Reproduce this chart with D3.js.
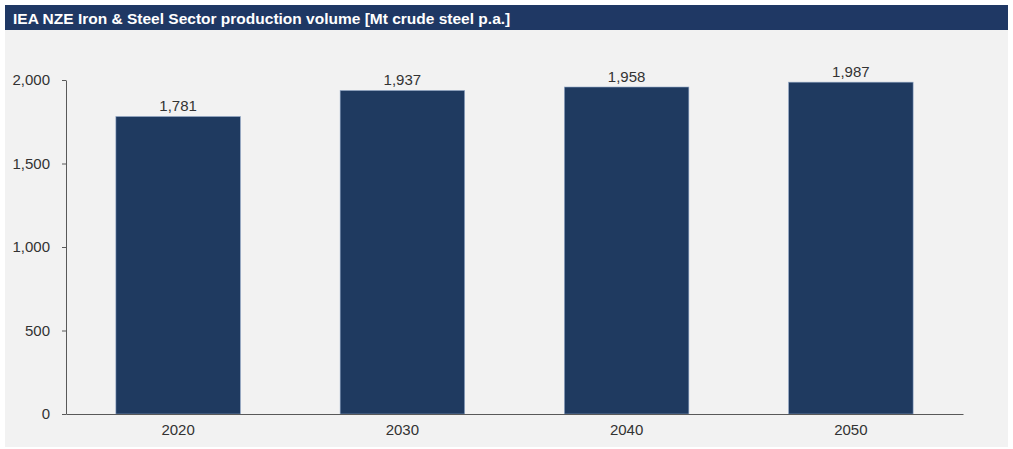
<!DOCTYPE html>
<html>
<head>
<meta charset="utf-8">
<script src="https://cdn.jsdelivr.net/npm/d3@7"></script>
<style>
  body { margin: 0; background: #fff; font-family: "Liberation Sans", Arial, sans-serif; }
</style>
</head>
<body>
<div id="chart"></div>
<script>
const width = 1013, height = 449;

// data
const years = ["2020", "2030", "2040", "2050"];
const volumes = [1781, 1937, 1958, 1987];
const yTicks = [0, 500, 1000, 1500, 2000];

const title = "IEA NZE Iron & Steel Sector production volume [Mt crude steel p.a.]";

const svg = d3.select("#chart").append("svg")
    .attr("width", width)
    .attr("height", height);

// panel background + header bar
svg.append("rect")
    .attr("x", 5).attr("y", 5)
    .attr("width", 1003).attr("height", 442)
    .attr("fill", "#f2f2f2");

svg.append("rect")
    .attr("x", 5).attr("y", 5)
    .attr("width", 1003).attr("height", 25)
    .attr("fill", "#1f3864");

svg.append("text")
    .attr("x", 13).attr("y", 23.5)
    .attr("fill", "#fff")
    .attr("font-size", 15.5)
    .attr("font-weight", "bold")
    .text(title);

const x = d3.scaleBand()
    .domain(years)
    .range([66, 963])
    .paddingInner(0.445)
    .paddingOuter(0.2225);

const y = d3.scaleLinear()
    .domain([0, 2000])
    .range([414, 80]);

// bars
svg.selectAll(".bar")
    .data(years)
    .enter()
    .append("rect")
    .attr("class", "bar")
    .attr("x", d => x(d))
    .attr("width", x.bandwidth())
    .attr("y", (d, i) => y(volumes[i]))
    .attr("height", (d, i) => y(0) - y(volumes[i]))
    .attr("fill", "#1f3a60")
    .attr("stroke", "#8ea4c4")
    .attr("stroke-width", 0.6);

// value labels
svg.selectAll(".label")
    .data(years)
    .enter()
    .append("text")
    .attr("x", d => x(d) + x.bandwidth() / 2)
    .attr("y", (d, i) => y(volumes[i]) - 5.5)
    .attr("text-anchor", "middle")
    .attr("font-size", 15)
    .attr("fill", "#333")
    .text((d, i) => d3.format(",")(volumes[i]));

// y axis
const yAxis = svg.append("g")
    .attr("transform", "translate(66,0)")
    .call(d3.axisLeft(y).tickValues(yTicks).tickFormat(d3.format(",")).tickSize(4).tickSizeOuter(0));

// x axis
const xAxis = svg.append("g")
    .attr("transform", "translate(0,414)")
    .call(d3.axisBottom(x).tickSize(0).tickSizeOuter(0));

[yAxis, xAxis].forEach(g => {
    g.select(".domain").attr("stroke", "#595959").attr("stroke-width", 1);
    g.selectAll(".tick line").attr("stroke", "#595959");
    g.selectAll(".tick text")
        .attr("font-family", "Liberation Sans, Arial, sans-serif")
        .attr("font-size", 15)
        .attr("fill", "#333");
});
yAxis.selectAll(".tick text").attr("x", -16);
xAxis.selectAll(".tick text").attr("dy", "1.2em");
</script>
</body>
</html>
